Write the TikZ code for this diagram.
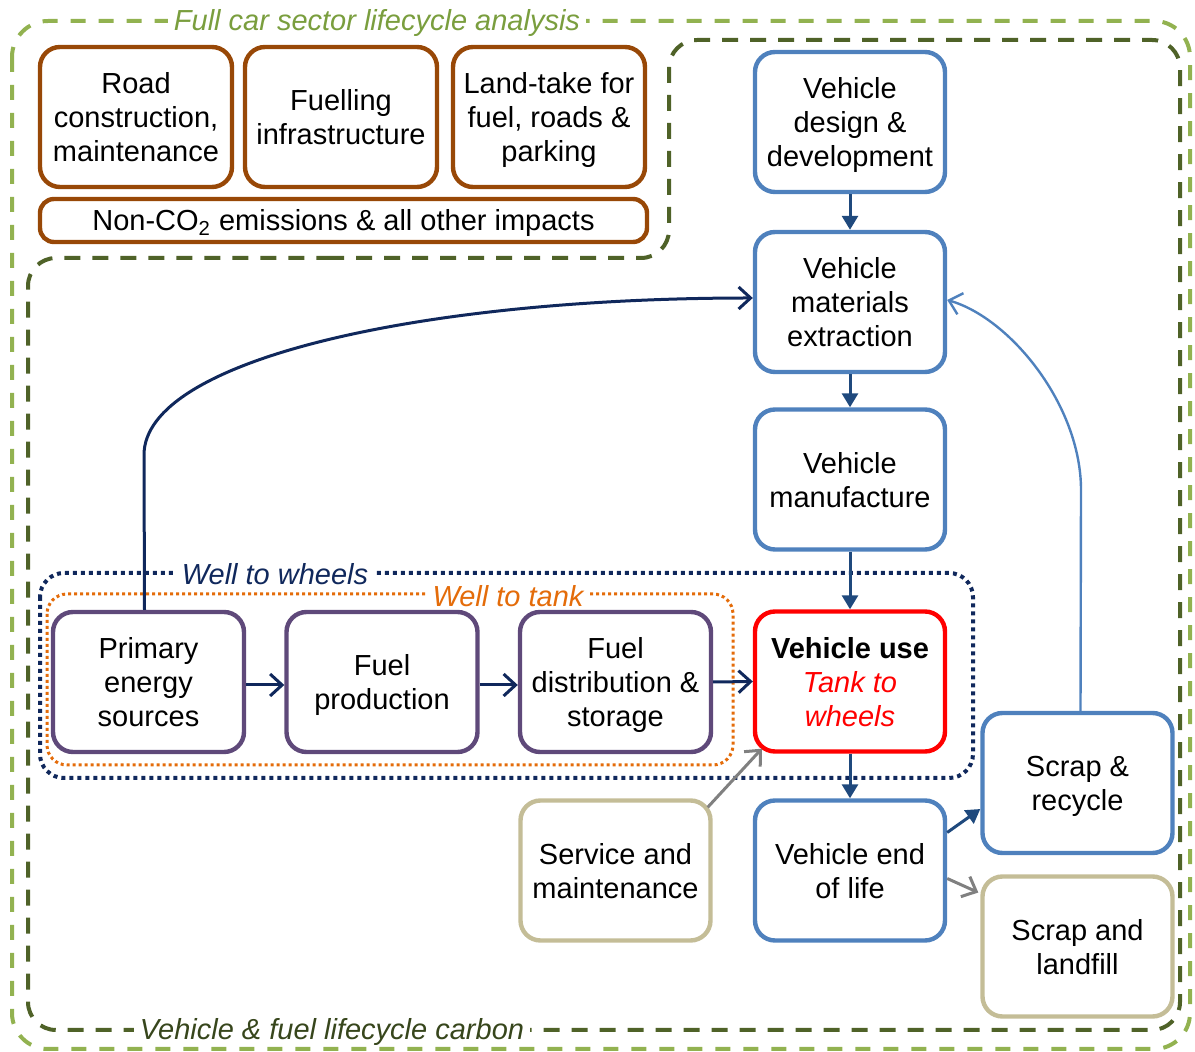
\documentclass[tikz,border=0pt]{standalone}
\usepackage{fontspec}
\setmainfont{Liberation Sans}
\usetikzlibrary{arrows.meta,calc}

\definecolor{boxbrown}{RGB}{152,72,7}
\definecolor{boxblue}{RGB}{79,129,189}
\definecolor{arrowblue}{RGB}{31,73,125}
\definecolor{navy}{RGB}{16,40,92}
\definecolor{boxpurple}{RGB}{95,73,122}
\definecolor{boxtan}{RGB}{196,189,151}
\definecolor{wtorange}{RGB}{228,108,10}
\definecolor{lightgreen}{RGB}{146,178,80}
\definecolor{titlegreen}{RGB}{122,158,62}
\definecolor{darkgreen}{RGB}{79,98,40}
\definecolor{labelgreen}{RGB}{55,70,28}
\definecolor{arrowgray}{RGB}{128,128,128}

\tikzset{
  % fixed text depth so every box centres its lines the same way
  box/.style={draw, rounded corners=10pt, line width=2.2pt, minimum width=95pt,
    minimum height=70pt, align=center, fill=white, inner sep=0pt, text=black,
    text depth=-2pt},
  brownbox/.style={box, draw=boxbrown, minimum width=96pt},
  bluebox/.style={box, draw=boxblue},
  purplebox/.style={box, draw=boxpurple, minimum width=95.5pt},
  tanbox/.style={box, draw=boxtan},
  usebox/.style={box, draw=red},
  framelabel/.style={fill=white, inner xsep=3pt, inner ysep=0pt,
    font=\fontsize{14.5}{17}\selectfont\itshape},
  darrow/.style={draw=arrowblue, line width=1.5pt, -{Triangle[length=7pt,width=8pt]}},
  navyarrow/.style={draw=navy, line width=1.5pt, -{Straight Barb[length=6pt,width=11pt]}},
  grayarrow/.style={draw=arrowgray, line width=1.5pt, -{Straight Barb[length=6pt,width=11pt]}},
  lbarrow/.style={draw=boxblue, line width=1.2pt, -{Straight Barb[length=6pt,width=11pt]}},
}

\begin{document}
\begin{tikzpicture}[x=0.5pt, y=-0.5pt, font=\fontsize{14.5}{17}\selectfont]
\useasboundingbox (0,0) rectangle (1195,1052);

% full car sector frame
\draw[lightgreen, line width=2pt, dash pattern=on 7.5pt off 6.5pt, rounded corners=18pt]
  (12,21) rectangle (1190,1049);
% vehicle & fuel lifecycle frame (with notch top-left)
\draw[darkgreen, line width=2pt, dash pattern=on 8pt off 6pt, rounded corners=14pt]
  (300,258) -- (669,258) -- (669,40) -- (1180,40) -- (1180,1030) -- (28,1030) -- (28,258) -- cycle;

% well to wheels / well to tank frames
\draw[navy, line width=2pt, dash pattern=on 2pt off 2pt, rounded corners=12pt]
  (40,573) rectangle (973,778);
\draw[wtorange, line width=1.5pt, dash pattern=on 1.5pt off 1.5pt, rounded corners=10pt]
  (47,594) rectangle (733,765);

% frame labels
\node[framelabel, text=titlegreen] (fulltitle) at (377,23) {Full car sector lifecycle analysis};
\node[framelabel, text=labelgreen] (vflabel) at (332,1032) {Vehicle \& fuel lifecycle carbon};
\node[framelabel, text=navy] (wtwlabel) at (275,574) {Well to wheels};
\node[framelabel, text=wtorange] (wttlabel) at (508,596) {Well to tank};

% wider impacts
\node[brownbox] (road) at (136,117) {Road\\construction,\\maintenance};
\node[brownbox] (fuelling) at (341,117) {Fuelling\\infrastructure};
\node[brownbox] (land) at (549,117) {Land-take for\\fuel, roads \&\\parking};
\node[brownbox, minimum width=303.5pt, minimum height=21.5pt, rounded corners=7pt]
  (nonco) at (343.5,220.5) {Non-CO\textsubscript{2} emissions \& all other impacts};

% vehicle chain
\node[bluebox] (design) at (850,122) {Vehicle\\design \&\\development};
\node[bluebox] (materials) at (850,302) {Vehicle\\materials\\extraction};
\node[bluebox] (manufacture) at (850,479.5) {Vehicle\\manufacture};
\node[usebox] (use) at (850,681.5) {\textbf{Vehicle use}\\{\color{red}\itshape Tank to}\\{\color{red}\itshape wheels}};
\node[bluebox] (endlife) at (850,870.5) {Vehicle end\\of life};
\node[bluebox] (recycle) at (1077.5,783) {Scrap \&\\recycle};
\node[tanbox] (landfill) at (1077.5,946.5) {Scrap and\\landfill};
\node[tanbox] (service) at (615.5,870.5) {Service and\\maintenance};

% fuel chain
\node[purplebox] (primary) at (148.5,682) {Primary\\energy\\sources};
\node[purplebox] (fuelprod) at (382,682) {Fuel\\production};
\node[purplebox] (fueldist) at (615.5,682) {Fuel\\distribution \&\\storage};

% connectors
\draw[darrow] (design) -- (materials);
\draw[darrow] (materials) -- (manufacture);
\draw[darrow] (manufacture) -- (use);
\draw[darrow] (use) -- (endlife);
\draw[darrow] ($(endlife.east)+(0,-38)$) -- ($(recycle.west)+(0,26)$);
\draw[grayarrow] ($(endlife.east)+(0,8)$) -- ($(landfill.west)+(-2,-54)$);
\draw[grayarrow] ($(service.north east)+(-5,9)$) -- ($(use.south west)+(9,-5)$);

\draw[navyarrow] ($(primary.east)+(0,3)$) -- ($(fuelprod.west)+(0,3)$);
\draw[navyarrow] ($(fuelprod.east)+(0,3)$) -- ($(fueldist.west)+(0,3)$);
\draw[navyarrow] (fueldist.east) -- (use.west);

\coordinate (rise) at (144,455);
\draw[navyarrow] ($(primary.north)+(-4,0)$) -- (rise)
  .. controls (144,360) and (420,298) .. ($(materials.west)+(0,-4)$);

\coordinate (back) at (1081,490);
\draw[lbarrow] ($(recycle.north)+(3,0)$) -- (back)
  .. controls (1081,405) and (1010,318) .. ($(materials.east)+(0,-2)$);
\end{tikzpicture}
\end{document}
